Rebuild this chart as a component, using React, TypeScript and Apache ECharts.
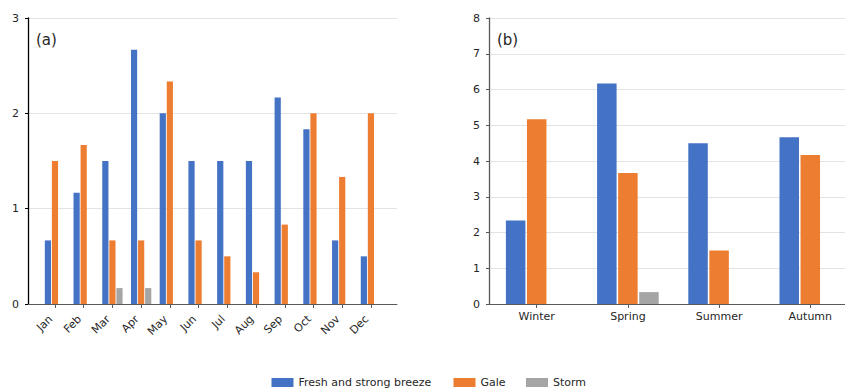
import React, { useEffect, useRef } from 'react';
import * as echarts from 'echarts';

// Monthly mean number of days per wind class
const months = ['Jan', 'Feb', 'Mar', 'Apr', 'May', 'Jun', 'Jul', 'Aug', 'Sep', 'Oct', 'Nov', 'Dec'];
const monthlyBreeze = [0.667, 1.167, 1.5, 2.667, 2, 1.5, 1.5, 1.5, 2.167, 1.833, 0.667, 0.5];
const monthlyGale = [1.5, 1.667, 0.667, 0.667, 2.333, 0.667, 0.5, 0.333, 0.833, 2, 1.333, 2];
const monthlyStorm = [0, 0, 0.167, 0.167, 0, 0, 0, 0, 0, 0, 0, 0];

// Seasonal totals
const seasons = ['Winter', 'Spring', 'Summer', 'Autumn'];
const seasonalBreeze = [2.333, 6.167, 4.5, 4.667];
const seasonalGale = [5.167, 3.667, 1.5, 4.167];
const seasonalStorm = [0, 0.333, 0, 0];

// Value axis ranges
const monthlyAxis = { min: 0, max: 3, step: 1 };
const seasonalAxis = { min: 0, max: 8, step: 1 };

const seriesNames = ['Fresh and strong breeze', 'Gale', 'Storm'];
const colors = ['#4472C4', '#ED7D31', '#A5A5A5'];

const FONT = 'DejaVu Sans';
const TEXT = '#262626';

export default function App() {
  const ref = useRef<HTMLDivElement>(null);

  useEffect(() => {
    if (!ref.current) return;
    const chart = echarts.init(ref.current, undefined, { renderer: 'svg' });

    const top = 18;
    const height = 286;

    const frameX = (gridIndex: number) => ({
      type: 'value',
      gridIndex,
      min: 0,
      max: 1,
      axisLine: { show: true, lineStyle: { color: '#595959', width: 1 } },
      axisTick: { show: false },
      axisLabel: { show: false },
      splitLine: { show: false },
    });

    const frameY = (gridIndex: number, range: typeof monthlyAxis, lineColor: string) => ({
      type: 'value',
      gridIndex,
      min: range.min,
      max: range.max,
      interval: range.step,
      axisLine: { show: true, lineStyle: { color: lineColor, width: 1.3 } },
      axisTick: { show: true, length: 3, lineStyle: { color: lineColor } },
      axisLabel: { margin: 9, fontSize: 11, color: TEXT, fontFamily: FONT },
      splitLine: { show: true, lineStyle: { color: '#e3e3e3', width: 1 } },
    });

    const hiddenY = (gridIndex: number, range: typeof monthlyAxis) => ({
      type: 'value',
      gridIndex,
      min: range.min,
      max: range.max,
      show: false,
    });

    const catX = (gridIndex: number, data: string[], rotate: number, margin: number, padding: number[]) => ({
      type: 'category',
      gridIndex,
      data,
      axisLine: { show: false },
      axisTick: { show: true, alignWithLabel: true, length: 4, lineStyle: { color: '#595959' } },
      axisLabel: { margin, padding, rotate, fontSize: 11, color: TEXT, fontFamily: FONT, interval: 0 },
      splitLine: { show: false },
    });

    const bar = (name: string, color: string, data: number[], idx: number, width: number, gap: string) => ({
      type: 'bar',
      name,
      xAxisIndex: idx,
      yAxisIndex: idx,
      data,
      barWidth: width,
      barGap: gap,
      itemStyle: { color },
    });

    const legend = (name: string, left: number) => ({
      data: [name],
      left,
      top: 377,
      padding: 0,
      itemWidth: 22,
      itemHeight: 9,
      icon: 'rect',
      selectedMode: false,
      textStyle: { fontSize: 11, color: TEXT, fontFamily: FONT },
    });

    chart.setOption({
      animation: false,
      textStyle: { fontFamily: FONT },
      grid: [
        { left: 28, top, width: 369, height, outerBoundsMode: 'none' },
        { left: 40.6, top, width: 344.7, height, outerBoundsMode: 'none' },
        { left: 489, top, width: 370, height, outerBoundsMode: 'none' },
        { left: 491.1, top, width: 364.8, height, outerBoundsMode: 'none' },
      ],
      xAxis: [
        frameX(0),
        catX(1, months, 45, 9, [0, 6, 0, 0]),
        frameX(2),
        catX(3, seasons, 0, 7, [0, 0, 0, 0]),
      ],
      yAxis: [
        frameY(0, monthlyAxis, '#000000'),
        hiddenY(1, monthlyAxis),
        frameY(2, seasonalAxis, '#595959'),
        hiddenY(3, seasonalAxis),
      ],
      legend: [
        legend(seriesNames[0], 271.5),
        legend(seriesNames[1], 453.5),
        legend(seriesNames[2], 526),
      ],
      graphic: [
        { type: 'text', left: 36, top: 32, style: { text: '(a)', fontSize: 15, fill: TEXT, fontFamily: FONT } },
        { type: 'text', left: 497, top: 32, style: { text: '(b)', fontSize: 15, fill: TEXT, fontFamily: FONT } },
      ],
      series: [
        bar(seriesNames[0], colors[0], monthlyBreeze, 1, 6.2, '14%'),
        bar(seriesNames[1], colors[1], monthlyGale, 1, 6.2, '14%'),
        bar(seriesNames[2], colors[2], monthlyStorm, 1, 6.2, '14%'),
        bar(seriesNames[0], colors[0], seasonalBreeze, 3, 19.5, '8%'),
        bar(seriesNames[1], colors[1], seasonalGale, 3, 19.5, '8%'),
        bar(seriesNames[2], colors[2], seasonalStorm, 3, 19.5, '8%'),
      ],
    });

    return () => chart.dispose();
  }, []);

  return (
    <div
      ref={ref}
      style={{ position: 'absolute', left: 0, top: 0, width: 845, height: 391, background: '#fff' }}
    />
  );
}
